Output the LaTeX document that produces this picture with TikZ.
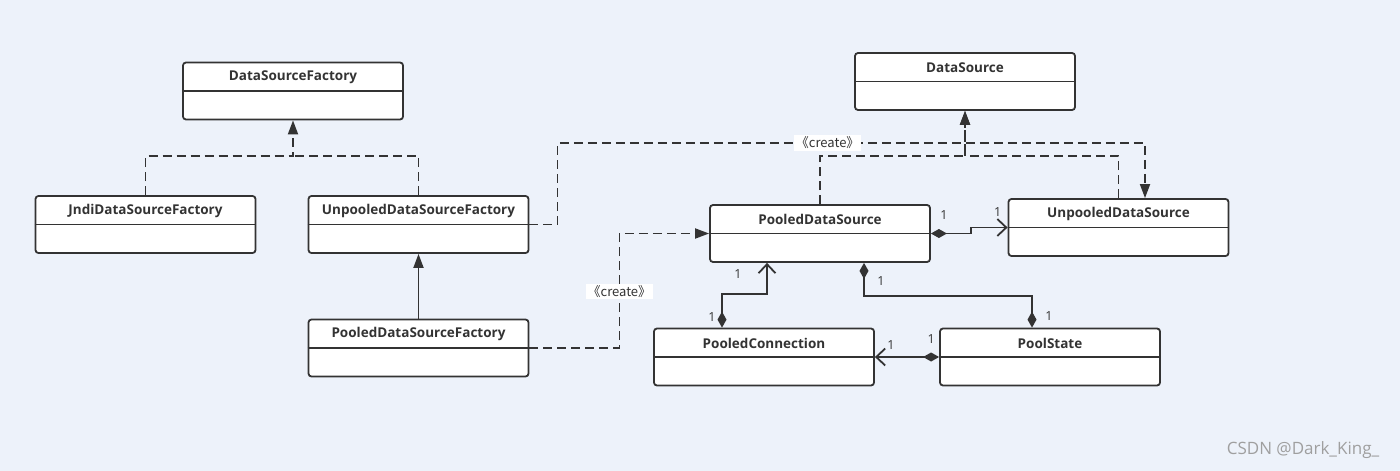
\documentclass[tikz,border=0pt]{standalone}
\usepackage{fontspec}
\setmainfont{Open Sans}
\newfontfamily\cjk{Noto Sans CJK SC}
\usetikzlibrary{arrows.meta}
\definecolor{bgblue}{HTML}{EDF2FA}
\definecolor{umlgray}{HTML}{333333}

\tikzset{
  classbox/.style={draw=umlgray, line width=1.8pt, fill=white, rounded corners=3pt,
    minimum width=220pt, minimum height=57pt, inner sep=0pt},
  classtitle/.style={font=\fontsize{13.5}{16}\selectfont\bfseries, text=umlgray, inner sep=0pt},
  mult/.style={font=\fontsize{12.5}{14}\selectfont, text=umlgray, inner sep=0pt},
  createlbl/.style={fill=white, font=\cjk\fontsize{13}{15}\selectfont, text=umlgray, inner sep=1.5pt},
  realize/.style={umlgray, line width=1.8pt, dash pattern=on 9pt off 5pt,
    -{Triangle[length=14pt,width=10pt]}},
  inherit/.style={umlgray, line width=1.8pt, -{Triangle[length=14pt,width=10pt]}},
  compose/.style={umlgray, line width=1.8pt,
    {Diamond[length=16pt,width=9pt]}-{Straight Barb[length=9pt,width=17pt]}},
  composeboth/.style={umlgray, line width=1.8pt,
    {Diamond[length=16pt,width=9pt]}-{Diamond[length=16pt,width=9pt]}}
}

% class box: name, centre, title
\newcommand{\umlclass}[3]{%
  \node[classbox] (#1) at (#2) {};
  \draw[umlgray, line width=1.8pt] (#1.west) -- (#1.east);
  \node[classtitle] (#1-title) at ([yshift=14pt]#1.center) {#3};
}

\begin{document}
\begin{tikzpicture}[x=1pt, y=-1pt]
% background, 1400 x 471 (1pt = 1px, y downwards)
\fill[bgblue] (0,0) rectangle (1400,471);
\useasboundingbox (0,0) rectangle (1400,471);

% Classes
\umlclass{dsf}{293,91}{DataSourceFactory}
\umlclass{jndi}{145.5,224.5}{JndiDataSourceFactory}
\umlclass{udsf}{418.5,224.5}{UnpooledDataSourceFactory}
\umlclass{pdsf}{418.5,348}{PooledDataSourceFactory}
\umlclass{ds}{965,81.5}{DataSource}
\umlclass{pds}{820,233.5}{PooledDataSource}
\umlclass{uds}{1118.5,227.5}{UnpooledDataSource}
\umlclass{pconn}{764,357}{PooledConnection}
\umlclass{pstate}{1050,357}{PoolState}

% Inheritance / realization
\draw[realize] (jndi.north) -- ++(0,-39) -| (dsf.south);
\draw[realize, -] (udsf.north) -- ++(0,-39) -- ++(-125.5,0);
\draw[inherit] (pdsf.north) -- (udsf.south);
\draw[realize] (pds.north) -- ++(0,-48) -| (ds.south);
\draw[realize] (uds.north) -- ++(0,-42) -| (ds.south);

% Factories create the data sources
\draw[realize] (udsf.east) -- ++(28,0) -- ++(0,-81.5)
  -| node[createlbl, pos=0.23] (cr1) {《create》} ([xshift=26.5pt]uds.north);
\draw[realize] (pdsf.east) -- ++(90,0)
  |- node[createlbl, pos=0.245] (cr2) {《create》} (pds.west);

% Associations with multiplicities
\draw[compose] (pds.east) node[mult, xshift=13pt, yshift=18pt] (m1) {1}
  -- ++(40,0) |- (uds.west) node[mult, xshift=-10pt, yshift=15pt] (m2) {1};
\draw[compose] ([xshift=-42pt]pconn.north) node[mult, xshift=-10pt, yshift=11pt] (m3) {1}
  -- ++(0,-34) -| ([xshift=-53pt]pds.south) node[mult, xshift=-29pt, yshift=-11pt] (m4) {1};
\draw[composeboth] ([xshift=44pt]pds.south) node[mult, xshift=17pt, yshift=-18pt] (m5) {1}
  -- ++(0,33) -| ([xshift=-18pt]pstate.north) node[mult, xshift=17pt, yshift=12pt] (m6) {1};
\draw[compose] (pstate.west) node[mult, xshift=-8pt, yshift=18pt] (m7) {1}
  -- (pconn.east) node[mult, xshift=16pt, yshift=12pt] (m8) {1};

% watermark
\node[font=\fontsize{17}{20}\selectfont, text=gray!75] (mark) at (1303,450) {CSDN @Dark\_King\_};
\end{tikzpicture}
\end{document}
